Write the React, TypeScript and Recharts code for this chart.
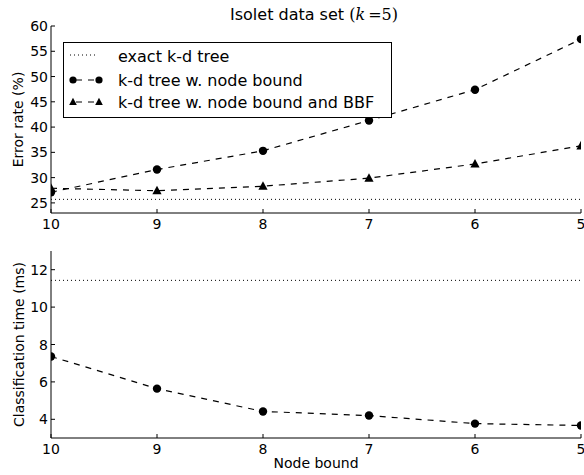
import React from "react";
import { LineChart, Line, XAxis, YAxis, ReferenceLine, Legend } from "recharts";

// node bound values along the (reversed) x axis
const nodeBounds = [10, 9, 8, 7, 6, 5];

// error rate (%)
const errorNodeBound = [27.1, 31.6, 35.3, 41.3, 47.4, 57.4];
const errorNodeBoundBbf = [27.9, 27.4, 28.3, 29.9, 32.7, 36.3];
const errorExact = 25.7;

// classification time (ms)
const timeNodeBound = [7.36, 5.64, 4.42, 4.2, 3.77, 3.67];
const timeExact = 11.43;

const xTicks = [10, 9, 8, 7, 6, 5];
const errorTicks = [25, 30, 35, 40, 45, 50, 55, 60];
const timeTicks = [4, 6, 8, 10, 12];

const FONT = '"DejaVu Sans", sans-serif';
const MATH = '"DejaVu Serif", serif';
const DASH = "6 6";
const DOTTED = "1 3";

const errorData = nodeBounds.map((n, i) => ({
  node: n,
  nodeBound: errorNodeBound[i],
  nodeBoundBbf: errorNodeBoundBbf[i],
}));
const timeData = nodeBounds.map((n, i) => ({ node: n, nodeBound: timeNodeBound[i] }));

type TickProps = { x?: number; y?: number; payload?: { value: number } };

// matplotlib-style ticks: short marks pointing into the frame
function BottomTick({ x = 0, y = 0, payload }: TickProps) {
  return (
    <g>
      <line x1={x} y1={y} x2={x} y2={y - 4} stroke="#000" />
      <text x={x} y={y + 16} textAnchor="middle" fontSize={14} fontFamily={FONT} fill="#000">
        {payload?.value}
      </text>
    </g>
  );
}

function TopTick({ x = 0, y = 0 }: TickProps) {
  return <line x1={x} y1={y} x2={x} y2={y + 4} stroke="#000" />;
}

function LeftTick({ x = 0, y = 0, payload }: TickProps) {
  return (
    <g>
      <line x1={x} y1={y} x2={x + 4} y2={y} stroke="#000" />
      <text x={x - 3} y={y + 5} textAnchor="end" fontSize={14} fontFamily={FONT} fill="#000">
        {payload?.value}
      </text>
    </g>
  );
}

function RightTick({ x = 0, y = 0 }: TickProps) {
  return <line x1={x} y1={y} x2={x - 4} y2={y} stroke="#000" />;
}

type DotProps = { cx?: number; cy?: number; index?: number };

function CircleDot({ cx, cy, index }: DotProps) {
  if (typeof cx !== "number" || typeof cy !== "number") return <g key={index} />;
  return <circle key={index} cx={cx} cy={cy} r={4.2} fill="#000" />;
}

function TriangleDot({ cx, cy, index }: DotProps) {
  if (typeof cx !== "number" || typeof cy !== "number") return <g key={index} />;
  const pts = `${cx},${cy - 5} ${cx - 4.6},${cy + 3.6} ${cx + 4.6},${cy + 3.6}`;
  return <polygon key={index} points={pts} fill="#000" />;
}

type ViewBox = { x: number; y: number; width: number; height: number };

function yTitle(text: string, baseX: number) {
  return (props: { viewBox?: ViewBox }) => {
    const vb = props.viewBox as ViewBox;
    const cy = vb.y + vb.height / 2;
    return (
      <text
        x={baseX}
        y={cy}
        transform={`rotate(-90 ${baseX} ${cy})`}
        textAnchor="middle"
        fontSize={14}
        fontFamily={FONT}
        fill="#000"
      >
        {text}
      </text>
    );
  };
}

function nodeBoundTitle(props: { viewBox?: ViewBox }) {
  const vb = props.viewBox as ViewBox;
  return (
    <text x={vb.x + vb.width / 2} y={vb.y + 30} textAnchor="middle" fontSize={14} fontFamily={FONT} fill="#000">
      Node bound
    </text>
  );
}

function Title() {
  return (
    <svg width={584} height={26} style={{ position: "absolute", left: 0, top: 0 }}>
      <text x={230} y={20} fontSize={16} fontFamily={FONT} fill="#000">
        Isolet data set{" "}
        <tspan fontFamily={MATH}>(</tspan>
        <tspan fontFamily={MATH} fontStyle="italic">k</tspan>
        <tspan fontFamily={MATH} dx={3}>=5)</tspan>
      </text>
    </svg>
  );
}

function LegendBox() {
  return (
    <svg width={329} height={76} style={{ display: "block" }}>
      <rect x={0.5} y={0.5} width={328} height={75} fill="#fff" stroke="#000" />
      <line x1={7} y1={13} x2={35} y2={13} stroke="#000" strokeDasharray={DOTTED} />
      <line x1={10} y1={38} x2={36} y2={38} stroke="#000" strokeDasharray={DASH} strokeDashoffset={-3} />
      <circle cx={10} cy={38} r={3.6} fill="#000" />
      <circle cx={36} cy={38} r={3.6} fill="#000" />
      <line x1={10} y1={60} x2={36} y2={60} stroke="#000" strokeDasharray={DASH} strokeDashoffset={-3} />
      <polygon points="10,55.8 6.2,63 13.8,63" fill="#000" />
      <polygon points="36,55.8 32.2,63 39.8,63" fill="#000" />
      <g fontSize={16} fontFamily={FONT} fill="#000">
        <text x={55} y={20}>exact k-d tree</text>
        <text x={55} y={43.5}>k-d tree w. node bound</text>
        <text x={55} y={66}>k-d tree w. node bound and BBF</text>
      </g>
    </svg>
  );
}

export default function App() {
  return (
    <div style={{ position: "fixed", left: 0, top: 0, width: 584, height: 475, background: "#fff" }}>
      <div style={{ position: "absolute", left: 0, top: 0 }}>
        <LineChart width={584} height={240} data={errorData} margin={{ top: 26, right: 3, bottom: 0, left: 0 }}>
          <XAxis
            xAxisId="b"
            dataKey="node"
            type="number"
            domain={[5, 10]}
            reversed
            allowDataOverflow
            ticks={xTicks}
            interval={0}
            height={27}
            tickSize={0}
            tickMargin={0}
            tickLine={false}
            axisLine={{ stroke: "#000" }}
            tick={<BottomTick />}
          />
          <XAxis
            xAxisId="t"
            orientation="top"
            dataKey="node"
            type="number"
            domain={[5, 10]}
            reversed
            ticks={xTicks}
            interval={0}
            height={0}
            tickSize={0}
            tickMargin={0}
            tickLine={false}
            axisLine={{ stroke: "#000" }}
            tick={<TopTick />}
          />
          <YAxis
            yAxisId="l"
            type="number"
            domain={[23, 60]}
            allowDataOverflow
            ticks={errorTicks}
            interval={0}
            width={51}
            tickSize={0}
            tickMargin={0}
            tickLine={false}
            axisLine={{ stroke: "#000" }}
            tick={<LeftTick />}
            label={yTitle("Error rate (%)", 23)}
          />
          <YAxis
            yAxisId="r"
            orientation="right"
            type="number"
            domain={[23, 60]}
            ticks={errorTicks}
            interval={0}
            width={0}
            tickSize={0}
            tickMargin={0}
            tickLine={false}
            axisLine={{ stroke: "#000" }}
            tick={<RightTick />}
          />
          <ReferenceLine xAxisId="b" yAxisId="l" y={errorExact} stroke="#000" strokeDasharray={DOTTED} />
          <Line
            xAxisId="b"
            yAxisId="l"
            type="linear"
            dataKey="nodeBound"
            stroke="#000"
            strokeWidth={1.2}
            strokeDasharray={DASH}
            dot={CircleDot}
            activeDot={false}
            isAnimationActive={false}
          />
          <Line
            xAxisId="b"
            yAxisId="l"
            type="linear"
            dataKey="nodeBoundBbf"
            stroke="#000"
            strokeWidth={1.2}
            strokeDasharray={DASH}
            dot={TriangleDot}
            activeDot={false}
            isAnimationActive={false}
          />
          <Legend
            layout="horizontal"
            verticalAlign="middle"
            align="center"
            content={() => <LegendBox />}
            wrapperStyle={{ left: 63, top: 42, width: 329, height: 76 }}
          />
        </LineChart>
        <Title />
      </div>
      <div style={{ position: "absolute", left: 0, top: 240 }}>
        <LineChart width={584} height={235} data={timeData} margin={{ top: 11, right: 3, bottom: 0, left: 0 }}>
          <XAxis
            xAxisId="b"
            dataKey="node"
            type="number"
            domain={[5, 10]}
            reversed
            allowDataOverflow
            ticks={xTicks}
            interval={0}
            height={37}
            tickSize={0}
            tickMargin={0}
            tickLine={false}
            axisLine={{ stroke: "#000" }}
            tick={<BottomTick />}
            label={nodeBoundTitle}
          />
          <XAxis
            xAxisId="t"
            orientation="top"
            dataKey="node"
            type="number"
            domain={[5, 10]}
            reversed
            ticks={xTicks}
            interval={0}
            height={0}
            tickSize={0}
            tickMargin={0}
            tickLine={false}
            axisLine={{ stroke: "#000" }}
            tick={<TopTick />}
          />
          <YAxis
            yAxisId="l"
            type="number"
            domain={[3, 13]}
            allowDataOverflow
            ticks={timeTicks}
            interval={0}
            width={51}
            tickSize={0}
            tickMargin={0}
            tickLine={false}
            axisLine={{ stroke: "#000" }}
            tick={<LeftTick />}
            label={yTitle("Classification time (ms)", 24)}
          />
          <YAxis
            yAxisId="r"
            orientation="right"
            type="number"
            domain={[3, 13]}
            ticks={timeTicks}
            interval={0}
            width={0}
            tickSize={0}
            tickMargin={0}
            tickLine={false}
            axisLine={{ stroke: "#000" }}
            tick={<RightTick />}
          />
          <ReferenceLine xAxisId="b" yAxisId="l" y={timeExact} stroke="#000" strokeDasharray={DOTTED} />
          <Line
            xAxisId="b"
            yAxisId="l"
            type="linear"
            dataKey="nodeBound"
            stroke="#000"
            strokeWidth={1.2}
            strokeDasharray={DASH}
            dot={CircleDot}
            activeDot={false}
            isAnimationActive={false}
          />
        </LineChart>
      </div>
    </div>
  );
}
